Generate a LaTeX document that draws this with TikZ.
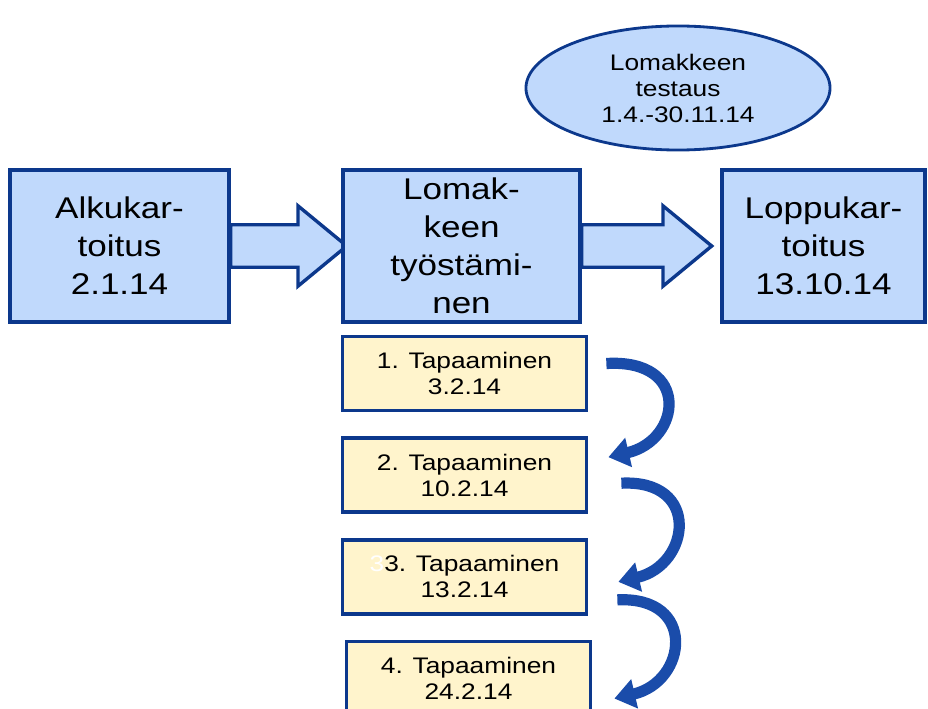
\documentclass[tikz,border=0pt]{standalone}
\usepackage{fontspec}
\setmainfont{Liberation Sans}[FakeStretch=1.17]
\usetikzlibrary{positioning,shapes.geometric,shapes.arrows,arrows.meta}
\definecolor{boxblue}{RGB}{192,217,252}
\definecolor{navy}{RGB}{12,56,140}
\definecolor{paleyellow}{RGB}{255,244,204}
\definecolor{curveblue}{RGB}{26,76,170}
\begin{document}
\begin{tikzpicture}[
    x=0.025cm, y=-0.025cm,
    phase/.style={rectangle, draw=navy, fill=boxblue, line width=2.4pt,
        minimum height=3.8cm, align=center, inner sep=0pt,
        font=\fontsize{21.3}{27}\selectfont},
    test/.style={ellipse, draw=navy, fill=boxblue, line width=2pt,
        minimum width=7.6cm, minimum height=3.1cm, align=center,
        font=\fontsize{16}{18.5}\selectfont},
    meeting/.style={rectangle, draw=navy, fill=paleyellow, line width=2.6pt,
        minimum width=6.1cm, minimum height=1.85cm, align=center,
        font=\fontsize{16}{18.5}\selectfont},
    bigarrow/.style={single arrow, draw=navy, fill=boxblue, line width=2.4pt,
        inner sep=0.4875cm, single arrow head extend=0.475cm,
        single arrow tip angle=79, anchor=tail},
    turn/.style={draw=curveblue, line width=0.28cm,
        -{Triangle[length=0.52cm,width=0.72cm]}}
    ]
    \useasboundingbox (0,0) rectangle (928,709);
    \clip (0,0) rectangle (928,709);

	% phases
	\node [bigarrow, minimum height=2.9cm] at (229,246) {};
	\node [bigarrow, minimum height=3.25cm] at (580,246) {};
	\node (alku) [phase, minimum width=5.475cm] at (119.5,246) {Alkukar-\\toitus\\2.1.14};
	\node (lomake) [phase, minimum width=5.925cm] at (461.5,246) {Lomak-\\keen\\työstämi-\\nen};
	\node (loppu) [phase, minimum width=5.075cm] at (823.5,246) {Loppukar-\\toitus\\13.10.14};
	\node (testaus) [test] at (678,88) {Lomakkeen\\testaus\\1.4.-30.11.14};

	% meetings
	\node (t1) [meeting] at (464.5,373.5) {1. Tapaaminen\\3.2.14};
	\node (t2) [meeting, below=0.6cm of t1] {2. Tapaaminen\\10.2.14};
	\node (t3) [meeting, below=0.6cm of t2] {{\color{white}3}3. Tapaaminen\\13.2.14};
	\node (t4) [meeting, below=0.6cm of t3, xshift=0.1cm] {4. Tapaaminen\\24.2.14};

	\draw [turn] ([xshift=0.45cm, yshift=0.25cm]t1.east)
		.. controls +(85,-5) and +(73,-17) .. ([xshift=0.5cm, yshift=0.45cm]t2.east);
	\draw [turn] ([xshift=0.825cm, yshift=-0.2cm]t2.east)
		.. controls +(80,-4) and +(72,-17) .. ([xshift=0.75cm, yshift=-0.125cm]t3.east);
	\draw [turn] ([xshift=0.725cm, yshift=-0.575cm]t3.east)
		.. controls +(80,-4) and +(73,-17) .. ([xshift=0.55cm, yshift=-0.5cm]t4.east);
\end{tikzpicture}
\end{document}
